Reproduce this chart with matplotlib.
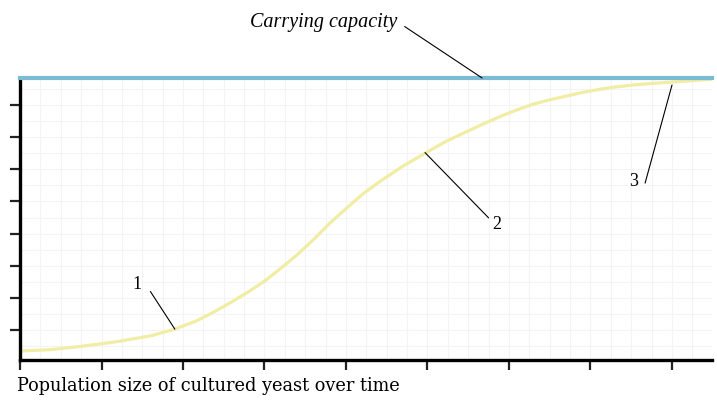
import numpy as np
import matplotlib
matplotlib.use("Agg")
import matplotlib.pyplot as plt
from matplotlib.ticker import MultipleLocator

# time (x tick units) and population (y tick units)
time = [0.0, 0.37, 0.77, 1.19, 1.60, 1.90, 2.15, 2.37, 2.58, 2.79, 3.0, 3.19, 3.40,
        3.60, 3.80, 4.01, 4.21, 4.42, 4.70, 4.97, 5.22, 5.48, 5.70, 5.89, 6.10,
        6.29, 6.50, 6.71, 6.90, 7.12, 7.30, 7.52, 7.75, 7.99, 8.25, 8.49]
population = [0.35, 0.39, 0.50, 0.64, 0.82, 1.03, 1.27, 1.55, 1.85, 2.17, 2.52, 2.90, 3.34,
              3.81, 4.32, 4.80, 5.24, 5.63, 6.10, 6.50, 6.86, 7.17, 7.43, 7.64, 7.85,
              8.02, 8.16, 8.28, 8.39, 8.49, 8.56, 8.62, 8.67, 8.71, 8.76, 8.80]
capacity = 8.84
x_ticks = [0, 1, 2, 3, 4, 5, 6, 7, 8]
y_ticks = [1, 2, 3, 4, 5, 6, 7, 8]

serif = ["Liberation Serif", "DejaVu Serif"]

fig = plt.figure(figsize=(7.17, 4.02), dpi=100)
ax = fig.add_axes([0.0279, 0.102, 0.965, 0.7015])

ax.set_xlim(0, 8.49)
ax.set_ylim(0.07, capacity)

ax.xaxis.set_minor_locator(MultipleLocator(0.25))
ax.yaxis.set_minor_locator(MultipleLocator(0.5))
ax.grid(which="both", color="#f4f4f4", lw=0.8, zorder=0)
ax.set_axisbelow(True)

ax.axhline(capacity, color="#7dbad6", lw=3, zorder=3, clip_on=False)
ax.plot(time, population, color="#f1eda4", lw=2.3, zorder=2,
        solid_capstyle="round", solid_joinstyle="round")

for s in ["top", "right"]:
    ax.spines[s].set_visible(False)
for s in ["left", "bottom"]:
    ax.spines[s].set_linewidth(2.4)
ax.set_xticks(x_ticks)
ax.set_yticks(y_ticks)
ax.set_xticklabels([])
ax.set_yticklabels([])
ax.tick_params(which="major", direction="out", length=7, width=1.6, color="#222222")
ax.tick_params(which="minor", length=0)

# labels and leader lines
ax.text(4.63, 10.6, "Carrying capacity", family=serif, style="italic", fontsize=14.5,
        ha="right", va="center")
ax.annotate("", xy=(5.67, capacity), xytext=(4.72, 10.44),
            arrowprops=dict(arrowstyle="-", lw=0.8, color="black", shrinkA=0, shrinkB=0),
            annotation_clip=False)

ax.text(1.44, 2.45, "1", family=serif, fontsize=13, ha="center", va="center")
ax.annotate("", xy=(1.90, 1.03), xytext=(1.60, 2.20),
            arrowprops=dict(arrowstyle="-", lw=0.8, color="black", shrinkA=0, shrinkB=0))

ax.text(5.85, 4.30, "2", family=serif, fontsize=13, ha="center", va="center")
ax.annotate("", xy=(4.97, 6.52), xytext=(5.75, 4.49),
            arrowprops=dict(arrowstyle="-", lw=0.8, color="black", shrinkA=0, shrinkB=0))

ax.text(7.53, 5.66, "3", family=serif, fontsize=13, ha="center", va="center")
ax.annotate("", xy=(8.0, 8.62), xytext=(7.67, 5.57),
            arrowprops=dict(arrowstyle="-", lw=0.8, color="black", shrinkA=0, shrinkB=0))

fig.text(0.024, 0.04, "Population size of cultured yeast over time",
         family=["DejaVu Serif"], fontsize=12.8, ha="left", va="center")

fig.savefig("out.png", dpi=100)
